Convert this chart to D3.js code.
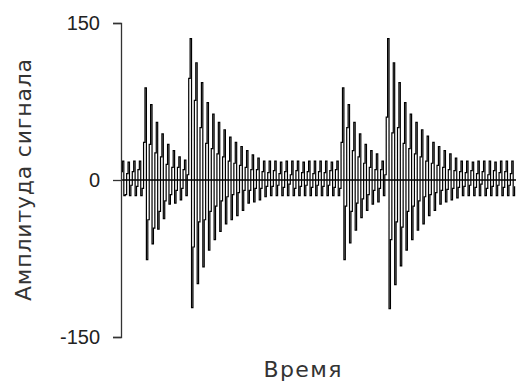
<!DOCTYPE html>
<html lang="ru">
<head>
    <meta charset="UTF-8">
    <title>Signal</title>
    <script src="https://d3js.org/d3.v7.min.js"></script>
    <style>
        body { margin: 0; background: white; }
        .axis text { font-family: "Liberation Sans", Arial, sans-serif; font-size: 20px; fill: #222; }
        .axis path, .axis line { stroke: #333; stroke-width: 1.3; }
        .title { font-family: "DejaVu Sans", sans-serif; font-size: 22px; fill: #333; }
    </style>
</head>
<body>
    <svg id="svg1" width="516" height="383"></svg>

    <script>
        // one entry per oscillation cycle
        const posPeak  = [18,17,18,18,88,72,55,44,34,28,22,19,135,112,93,74,63,55,48,41,36,32,28,24,21,18,18,18,17,18,18,18,17,18,18,
                          18,18,17,18,88,72,55,44,34,28,25,18,135,112,93,74,63,55,48,42,36,32,28,25,21,18,18,17,18,18,18,17,18,18,18];
        const negPeak  = [-15,-15,-15,-15,-76,-61,-47,-37,-23,-22,-19,-15,-122,-99,-83,-67,-57,-49,-42,-38,-34,-29,-22,-21,-19,-16,-15,-15,-15,-15,-15,-15,-15,-15,-15,
                          -15,-15,-15,-15,-76,-60,-48,-36,-29,-23,-21,-15,-123,-100,-82,-67,-57,-48,-42,-34,-29,-23,-21,-19,-17,-15,-15,-15,-15,-15,-15,-15,-15,-15,-15];
        const innerPos = [8,6,8,10,36,34,26,22,15,12,12,10,97,76,50,35,30,25,22,18,16,14,12,10,10,8,7,9,6,8,5,9,7,8,6,
                          8,7,9,10,36,50,28,22,16,12,10,10,60,45,50,35,30,25,22,18,16,14,12,10,9,8,7,9,6,8,5,9,7,8,6];
        const innerNeg = [-14,-5,-6,-8,-38,-46,-30,-20,-14,-10,-8,5,-64,-40,-38,-30,-25,-20,-16,-14,-12,-10,-10,-8,-8,-6,-6,-5,-7,-4,-8,-6,-5,-7,-5,
                          -6,-5,-7,-8,-25,-30,-22,-18,-14,-10,-8,5,-57,-40,-45,-30,-25,-20,-16,-14,-12,-10,-9,-8,-7,-6,-5,-7,-4,-8,-6,-5,-7,-5,-6];
        const yTicks = [150, 0, -150];

        const svg1 = d3.select("svg#svg1");
        const plotLeft = 121, plotRight = 516, plotTop = 23, plotBottom = 337;

        // flatten each cycle into its four samples
        const samples = [];
        posPeak.forEach((p, i) => {
            samples.push(innerPos[i], p, negPeak[i], innerNeg[i]);
        });

        const xScale = d3.scaleLinear().domain([0, samples.length]).range([plotLeft, plotRight]);
        const yScale = d3.scaleLinear().domain([-150, 150]).range([plotBottom, plotTop]);

        // zero line
        svg1.append("line")
            .attr("x1", xScale(0)).attr("x2", xScale(samples.length))
            .attr("y1", yScale(0)).attr("y2", yScale(0))
            .attr("stroke", "black").attr("stroke-width", 1.3);

        // signal
        const lineGen = d3.line()
            .x((d, i) => xScale(i))
            .y(d => yScale(d))
            .curve(d3.curveStepAfter);

        svg1.append("path")
            .datum(samples)
            .attr("fill", "none")
            .attr("stroke", "black")
            .attr("stroke-width", 1.2)
            .attr("d", lineGen);

        // y axis (plain hyphen for negatives)
        svg1.append("g")
            .attr("class", "axis")
            .attr("transform", `translate(${plotLeft},0)`)
            .call(d3.axisLeft(yScale).tickValues(yTicks).tickSize(8).tickPadding(13).tickFormat(d => String(d)));

        // axis titles
        svg1.append("text")
            .attr("class", "title")
            .attr("transform", `translate(31,${yScale(0)}) rotate(-90)`)
            .attr("text-anchor", "middle")
            .attr("textLength", 242)
            .attr("lengthAdjust", "spacing")
            .text("Амплитуда сигнала");

        svg1.append("text")
            .attr("class", "title")
            .attr("x", 302.5)
            .attr("y", 377)
            .attr("text-anchor", "middle")
            .attr("textLength", 78)
            .attr("lengthAdjust", "spacing")
            .text("Время");
    </script>
</body>
</html>
